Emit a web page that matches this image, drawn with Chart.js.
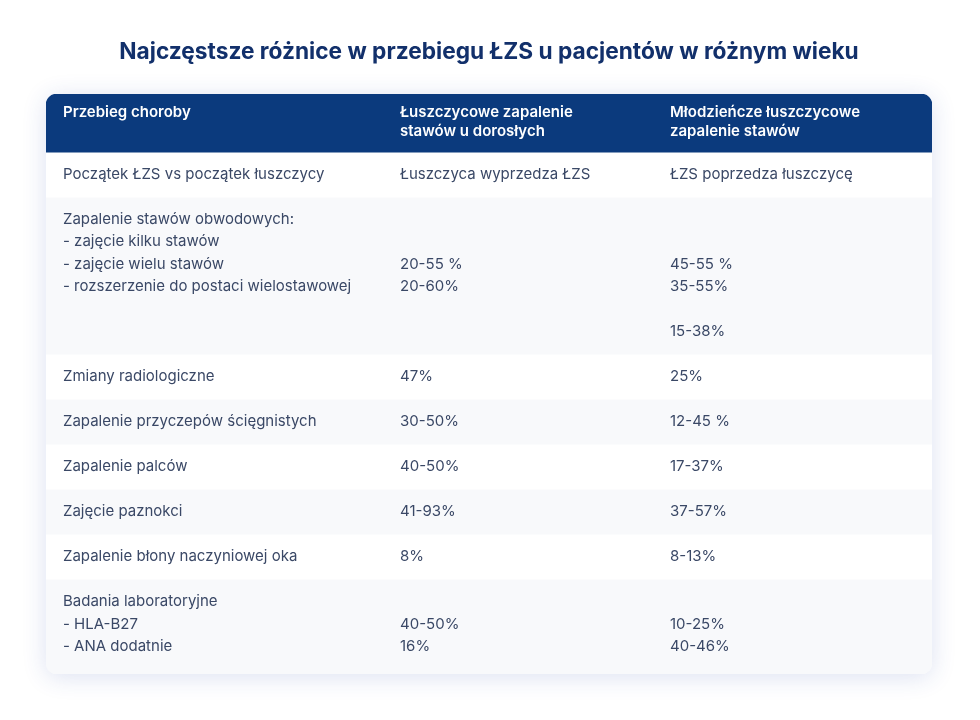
<!DOCTYPE html>
<html><head><meta charset="utf-8">
<script src="https://cdn.jsdelivr.net/npm/chart.js@4"></script>
<style>html,body{margin:0;background:#fff}#wrap{width:980px;height:720px}</style>
</head><body><div id="wrap"><canvas id="c"></canvas></div>
<script>
const chartTitle = 'Najczęstsze różnice w przebiegu ŁZS u pacjentów w różnym wieku';
const headerCells = [
  ['Przebieg choroby'],
  ['Łuszczycowe zapalenie', 'stawów u dorosłych'],
  ['Młodzieńcze łuszczycowe', 'zapalenie stawów']
];
const courseCells = [
  ['Początek ŁZS vs początek łuszczycy'],
  ['Zapalenie stawów obwodowych:', '- zajęcie kilku stawów', '- zajęcie wielu stawów', '- rozszerzenie do postaci wielostawowej'],
  ['Zmiany radiologiczne'],
  ['Zapalenie przyczepów ścięgnistych'],
  ['Zapalenie palców'],
  ['Zajęcie paznokci'],
  ['Zapalenie błony naczyniowej oka'],
  ['Badania laboratoryjne', '- HLA-B27', '- ANA dodatnie']
];
const adultCells = [
  ['Łuszczyca wyprzedza ŁZS'],
  ['', '', '20-55 %', '20-60%'],
  ['47%'],
  ['30-50%'],
  ['40-50%'],
  ['41-93%'],
  ['8%'],
  ['', '40-50%', '16%']
];
const juvenileCells = [
  ['ŁZS poprzedza łuszczycę'],
  ['', '', '45-55 %', '35-55%', '', '15-38%'],
  ['25%'],
  ['12-45 %'],
  ['17-37%'],
  ['37-57%'],
  ['8-13%'],
  ['', '10-25%', '40-46%']
];

// layout / style constants
const HEADER_H = 58, HEADER_LINE0 = 18, HEADER_LH = 19;
const ROW_BASE = 45, LINE_H = 22.4, FIRST_LINE = 22.5, LAST_EXTRA = 5;
const COL_X = [17, 354, 624];
const FONT = 'Inter, "Noto Sans", sans-serif';

const columns = [courseCells, adultCells, juvenileCells];
const lineCounts = courseCells.map((_, i) => Math.max(...columns.map(c => c[i].length)));
const rowHeights = lineCounts.map((n, i) => ROW_BASE + LINE_H * (n - 1) + (i === lineCounts.length - 1 ? LAST_EXTRA : 0));
const bandHeights = [HEADER_H, ...rowHeights];
const bandStarts = [];
bandHeights.reduce((acc, h) => { bandStarts.push(acc); return acc + h; }, 0);
const total = bandHeights.reduce((a, b) => a + b, 0);

const datasets = bandHeights.map((h, i) => ({
  label: i === 0 ? 'header' : 'row' + i,
  data: [h],
  stack: 'table',
  backgroundColor: i === 0 ? '#0b3a7d' : (i % 2 === 1 ? '#ffffff' : '#f8f9fb'),
  borderWidth: 0,
  borderSkipped: false,
  borderRadius: i === 0 ? {topLeft: 11, topRight: 11, bottomLeft: 0, bottomRight: 0}
    : (i === bandHeights.length - 1 ? {topLeft: 0, topRight: 0, bottomLeft: 11, bottomRight: 11}
    : {topLeft: 0, topRight: 0, bottomLeft: 0, bottomRight: 0}),
  barPercentage: 1,
  categoryPercentage: 1
}));

const cardShadow = {
  id: 'cardShadow',
  beforeDatasetsDraw(chart) {
    const {ctx, chartArea: a} = chart;
    ctx.save();
    ctx.shadowColor = 'rgba(40,70,170,0.16)';
    ctx.shadowBlur = 24;
    ctx.shadowOffsetY = 3;
    ctx.fillStyle = '#ffffff';
    ctx.beginPath();
    ctx.roundRect(a.left, a.top, a.right - a.left, a.bottom - a.top, 11);
    ctx.fill();
    ctx.restore();
  }
};

const cellText = {
  id: 'cellText',
  afterDatasetsDraw(chart) {
    const {ctx, chartArea: a, scales: {y}} = chart;
    ctx.save();
    ctx.textBaseline = 'middle';
    ctx.textAlign = 'left';
    ctx.fillStyle = '#ffffff';
    ctx.font = '600 15px ' + FONT;
    headerCells.forEach((lines, c) => {
      lines.forEach((t, k) => {
        ctx.fillText(t, a.left + COL_X[c], y.getPixelForValue(HEADER_LINE0 + k * HEADER_LH));
      });
    });
    ctx.fillStyle = '#3a4866';
    ctx.font = '400 15px ' + FONT;
    columns.forEach((col, c) => {
      col.forEach((lines, r) => {
        const start = bandStarts[r + 1];
        lines.forEach((t, k) => {
          if (!t) return;
          ctx.fillText(t, a.left + COL_X[c], y.getPixelForValue(start + FIRST_LINE + k * LINE_H));
        });
      });
    });
    ctx.restore();
  }
};

new Chart(document.getElementById('c'), {
  type: 'bar',
  data: { labels: ['tabela'], datasets },
  options: {
    responsive: true,
    maintainAspectRatio: false,
    animation: false,
    events: [],
    layout: { padding: { left: 46, right: 48, top: 0, bottom: 46 } },
    scales: {
      x: { stacked: true, display: false },
      y: { stacked: true, display: false, reverse: true, min: 0, max: total }
    },
    plugins: {
      legend: { display: false },
      tooltip: { enabled: false },
      title: {
        display: true,
        text: chartTitle,
        color: '#12306b',
        font: { family: FONT, size: 22.7, weight: '700', lineHeight: 1.2 },
        padding: { top: 38.5, bottom: 28.3 }
      }
    }
  },
  plugins: [cardShadow, cellText]
});
</script>
</body></html>
